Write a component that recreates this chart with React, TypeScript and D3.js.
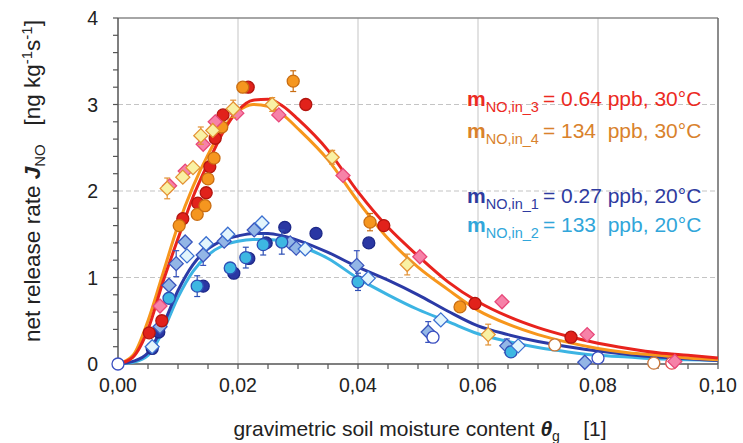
import React from 'react';
import * as d3 from 'd3';

// fitted curves at fixed moisture steps
const fitTheta = [0, 0.0025, 0.005, 0.0075, 0.01, 0.0125, 0.015, 0.0175, 0.02, 0.0225, 0.025, 0.0275, 0.03, 0.035, 0.04, 0.045, 0.05, 0.055, 0.06, 0.065, 0.07, 0.075, 0.08, 0.085, 0.09, 0.095, 0.1];
const redFit = [0, 0.08, 0.4, 0.95, 1.45, 1.93, 2.32, 2.68, 2.93, 3.05, 3.06, 2.98, 2.83, 2.47, 1.99, 1.58, 1.25, 0.95, 0.72, 0.55, 0.42, 0.32, 0.24, 0.18, 0.13, 0.1, 0.07];
const orangeFit = [0, 0.1, 0.5, 1.05, 1.6, 2.05, 2.42, 2.72, 2.92, 3.0, 2.98, 2.88, 2.72, 2.36, 1.88, 1.45, 1.12, 0.86, 0.62, 0.46, 0.34, 0.25, 0.18, 0.13, 0.1, 0.07, 0.05];
const blueFit = [0, 0.03, 0.13, 0.45, 0.85, 1.15, 1.33, 1.43, 1.48, 1.51, 1.51, 1.48, 1.43, 1.29, 1.12, 0.97, 0.8, 0.61, 0.44, 0.34, 0.26, 0.2, 0.15, 0.11, 0.08, 0.06, 0.04];
const cyanFit = [0, 0.02, 0.1, 0.38, 0.77, 1.07, 1.26, 1.37, 1.42, 1.44, 1.44, 1.42, 1.37, 1.22, 0.99, 0.8, 0.63, 0.49, 0.35, 0.26, 0.19, 0.14, 0.1, 0.08, 0.06, 0.05, 0.04];

// measured points: [theta, J, error]
const redCircles = [[0.0052, 0.36, 0], [0.0073, 0.5, 0], [0.0108, 1.68, 0], [0.0133, 1.86, 0], [0.0147, 1.98, 0], [0.0153, 2.28, 0], [0.0162, 2.61, 0], [0.0175, 2.88, 0], [0.0217, 3.2, 0], [0.0313, 3.0, 0], [0.0443, 1.6, 0], [0.0595, 0.7, 0], [0.0755, 0.31, 0]];
const orangeCircles = [[0.0102, 1.6, 0], [0.0132, 1.73, 0], [0.0145, 1.83, 0], [0.015, 2.14, 0], [0.016, 2.38, 0], [0.0173, 2.74, 0], [0.0208, 3.2, 0], [0.0292, 3.27, 0.12], [0.042, 1.64, 0.1], [0.057, 0.66, 0]];
const pinkDiamonds = [[0.007, 0.67, 0], [0.0086, 2.06, 0], [0.0112, 2.23, 0], [0.0142, 2.54, 0], [0.0162, 2.8, 0], [0.0198, 2.9, 0], [0.0268, 2.88, 0], [0.0375, 2.18, 0], [0.0503, 1.24, 0], [0.064, 0.72, 0], [0.0782, 0.34, 0], [0.0928, 0.03, 0]];
const yellowDiamonds = [[0.0082, 2.03, 0.12], [0.0108, 2.16, 0], [0.0125, 2.27, 0], [0.0138, 2.64, 0.1], [0.0158, 2.7, 0], [0.0192, 2.95, 0.1], [0.0257, 3.0, 0.08], [0.0357, 2.39, 0.08], [0.0482, 1.15, 0.12], [0.0617, 0.34, 0.12]];
const blueCircles = [[0.0057, 0.18, 0], [0.0068, 0.37, 0], [0.0142, 0.9, 0], [0.0193, 1.05, 0], [0.0218, 1.22, 0], [0.0247, 1.4, 0], [0.0278, 1.58, 0], [0.033, 1.51, 0], [0.0418, 1.4, 0]];
const cyanCircles = [[0.0085, 0.76, 0], [0.0132, 0.9, 0.12], [0.0187, 1.11, 0], [0.0213, 1.23, 0.12], [0.0242, 1.38, 0.12], [0.0273, 1.41, 0.14], [0.04, 0.95, 0.1], [0.0655, 0.14, 0]];
const blueDiamonds = [[0.007, 0.43, 0], [0.0085, 0.91, 0], [0.0097, 1.16, 0.15], [0.0112, 1.41, 0], [0.0142, 1.26, 0.12], [0.0177, 1.42, 0], [0.0227, 1.55, 0], [0.0287, 1.4, 0], [0.0297, 1.34, 0], [0.0398, 1.14, 0.17], [0.0517, 0.37, 0.12], [0.0648, 0.21, 0.08], [0.0778, 0.02, 0]];
const paleDiamonds = [[0.0057, 0.2, 0], [0.0115, 1.25, 0], [0.0147, 1.39, 0], [0.0183, 1.5, 0], [0.024, 1.63, 0], [0.0312, 1.33, 0], [0.0417, 0.99, 0], [0.0538, 0.51, 0], [0.0667, 0.21, 0]];
const openBlue = [[0, 0, 0], [0.0525, 0.31, 0], [0.08, 0.07, 0]];
const openOrange = [[0.0728, 0.22, 0], [0.0893, 0.01, 0]];
const openRed = [[0.0923, 0.01, 0]];

const xTicks = [0, 0.02, 0.04, 0.06, 0.08, 0.1];
const yTicks = [0, 1, 2, 3, 4];

const x = d3.scaleLinear().domain([0, 0.1]).range([118, 718]);
const y = d3.scaleLinear().domain([0, 4]).range([364, 18]);

const line = d3
  .line<number>()
  .x((d, i) => x(fitTheta[i]))
  .y(d => y(d))
  .curve(d3.curveMonotoneX);

const fmt = (v: number) => d3.format('.2f')(v).replace('.', ',');
const font = 'Liberation Sans, Arial, sans-serif';

const diamondPath = (cx: number, cy: number, r: number) =>
  `M${cx},${cy - r}L${cx + r},${cy}L${cx},${cy + r}L${cx - r},${cy}Z`;

function Points({ data, shape, fill, stroke }) {
  return (
    <g>
      {data.map(([t, j, e], i) => {
        const cx = x(t);
        const cy = y(j);
        return (
          <g key={i}>
            {e > 0 && (
              <g stroke={stroke} strokeWidth={1.2}>
                <line x1={cx} x2={cx} y1={y(j + e)} y2={y(j - e)} />
                <line x1={cx - 3} x2={cx + 3} y1={y(j + e)} y2={y(j + e)} />
                <line x1={cx - 3} x2={cx + 3} y1={y(j - e)} y2={y(j - e)} />
              </g>
            )}
            {shape === 'circle' ? (
              <circle cx={cx} cy={cy} r={6} fill={fill} stroke={stroke} strokeWidth={1.3} />
            ) : (
              <path d={diamondPath(cx, cy, 7)} fill={fill} stroke={stroke} strokeWidth={1.3} />
            )}
          </g>
        );
      })}
    </g>
  );
}

function Legend({ yPos, sub, rest, color }) {
  return (
    <text x={467} y={yPos} fill={color} fontFamily={font} fontSize={21} style={{ whiteSpace: 'pre' }}>
      <tspan fontWeight="bold">m</tspan>
      <tspan fontSize={14.5} dy={6}>{sub}</tspan>
      <tspan dy={-6} dx={4}>{rest}</tspan>
    </text>
  );
}

export default function App() {
  const xMinor = d3.range(0, 0.1001, 0.005);
  const yMinor = d3.range(0, 4.001, 0.2);
  return (
    <svg width={743} height={443} style={{ position: 'absolute', left: 0, top: 0, background: '#fff' }}>
      {/* grid */}
      {[0.02, 0.04, 0.06, 0.08].map(t => (
        <line key={t} x1={x(t)} x2={x(t)} y1={y(0)} y2={y(4)} stroke="#cfcfcf" strokeWidth={1.2} />
      ))}
      {[1, 2, 3].map(v => (
        <line key={v} x1={x(0)} x2={x(0.1)} y1={y(v)} y2={y(v)} stroke="#c4c4c4" strokeWidth={1.2} strokeDasharray="5,3" />
      ))}

      {/* frame and ticks */}
      <line x1={x(0)} x2={x(0.1)} y1={y(4)} y2={y(4)} stroke="#888" strokeWidth={1.5} />
      <line x1={x(0.1)} x2={x(0.1)} y1={y(4)} y2={y(0)} stroke="#666" strokeWidth={1.5} />
      <line x1={x(0)} x2={x(0.1)} y1={y(0)} y2={y(0)} stroke="#555" strokeWidth={1.5} />
      <line x1={x(0)} x2={x(0)} y1={y(4)} y2={y(0)} stroke="#555" strokeWidth={1.5} />
      {xMinor.map((t, i) => (
        <line key={i} x1={x(t)} x2={x(t)} y1={y(0)} y2={y(0) + 5} stroke="#555" strokeWidth={1.2} />
      ))}
      {yMinor.map((v, i) => (
        <line key={i} x1={x(0) - 5} x2={x(0)} y1={y(v)} y2={y(v)} stroke="#555" strokeWidth={1.2} />
      ))}
      {xTicks.map(t => (
        <text key={t} x={x(t)} y={392} textAnchor="middle" fontFamily={font} fontSize={19.5} fill="#222">
          {fmt(t)}
        </text>
      ))}
      {yTicks.map(v => (
        <text key={v} x={98} y={y(v) + 7} textAnchor="end" fontFamily={font} fontSize={19.5} fill="#222">
          {v}
        </text>
      ))}

      {/* fitted curves */}
      <path d={line(cyanFit)} fill="none" stroke="#3cb4e3" strokeWidth={3} />
      <path d={line(blueFit)} fill="none" stroke="#2b3aa6" strokeWidth={3} />
      <path d={line(orangeFit)} fill="none" stroke="#f7961c" strokeWidth={3} />
      <path d={line(redFit)} fill="none" stroke="#e8231d" strokeWidth={3} />

      {/* measurements */}
      <Points data={blueCircles} shape="circle" fill="#2a37a3" stroke="#1d2888" />
      <Points data={blueDiamonds} shape="diamond" fill="#93b6e6" stroke="#3a55bd" />
      <Points data={cyanCircles} shape="circle" fill="#3db7e2" stroke="#2d4fb5" />
      <Points data={paleDiamonds} shape="diamond" fill="#e3f5fc" stroke="#3a6fd0" />
      <Points data={openBlue} shape="circle" fill="#fff" stroke="#3b4fc0" />
      <Points data={openOrange} shape="circle" fill="#fff" stroke="#c9763a" />
      <Points data={openRed} shape="circle" fill="#fff" stroke="#e24a4a" />
      <Points data={redCircles} shape="circle" fill="#e1221b" stroke="#b3150f" />
      <Points data={orangeCircles} shape="circle" fill="#f5961f" stroke="#c96d12" />
      <Points data={pinkDiamonds} shape="diamond" fill="#f682a8" stroke="#e8487a" />
      <Points data={yellowDiamonds} shape="diamond" fill="#f9f1a4" stroke="#e39234" />

      {/* legend */}
      <Legend yPos={106} sub="NO,in_3" rest="= 0.64 ppb, 30°C" color="#ec2a22" />
      <Legend yPos={138} sub="NO,in_4" rest="= 134  ppb, 30°C" color="#d9822c" />
      <Legend yPos={203} sub="NO,in_1" rest="= 0.27 ppb, 20°C" color="#2e3ba0" />
      <Legend yPos={232} sub="NO,in_2" rest="= 133  ppb, 20°C" color="#31a6da" />

      {/* axis titles */}
      <text
        transform="translate(40,181) rotate(-90)"
        textAnchor="middle"
        fontFamily={font}
        fontSize={22.5}
        fill="#222"
        style={{ whiteSpace: 'pre' }}
      >
        net release rate <tspan fontWeight="bold" fontStyle="italic">J</tspan>
        <tspan fontSize={15} dy={5}>NO</tspan>
        <tspan dy={-5}>   [ng kg</tspan>
        <tspan fontSize={15} dy={-8}>-1</tspan>
        <tspan dy={8}>s</tspan>
        <tspan fontSize={15} dy={-8}>-1</tspan>
        <tspan dy={8}>]</tspan>
      </text>
      <text x={420} y={436} textAnchor="middle" fontFamily={font} fontSize={21} fill="#222" style={{ whiteSpace: 'pre' }}>
        gravimetric soil moisture content <tspan fontWeight="bold" fontStyle="italic">θ</tspan>
        <tspan fontSize={14} dy={5}>g</tspan>
        <tspan dy={-5}>    [1]</tspan>
      </text>
    </svg>
  );
}
